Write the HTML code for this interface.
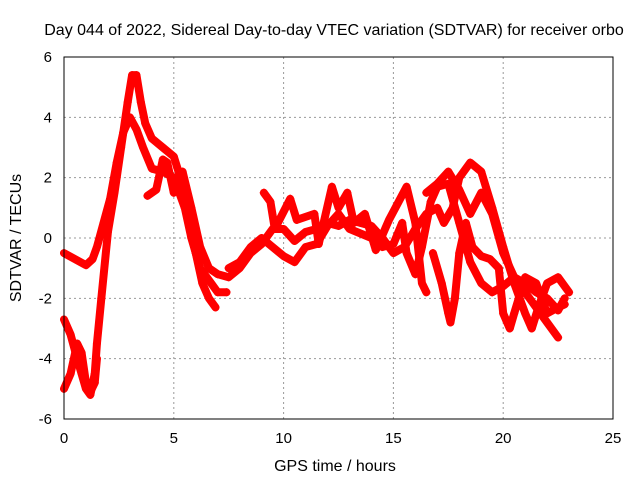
<!DOCTYPE html>
<html><head><meta charset="utf-8"><style>
body{margin:0;background:#fff;}
svg{display:block;font-family:"Liberation Sans",sans-serif;}
</style></head><body>
<svg id="chart" width="640" height="480">
<rect width="640" height="480" fill="#fff"/>
<text x="334" y="35" font-size="16" text-anchor="middle">Day 044 of 2022, Sidereal Day-to-day VTEC variation (SDTVAR) for receiver orbo</text>
<text x="335" y="471" font-size="16" text-anchor="middle">GPS time / hours</text>
<text transform="translate(21,238) rotate(-90)" font-size="16" text-anchor="middle">SDTVAR / TECUs</text>
<g id="grid"></g><g id="ticks"></g><g id="series"></g>
<rect x="64" y="57" width="549" height="362" fill="none" stroke="#000" stroke-width="1"/>
</svg>
<script>
const xTicks=[0,5,10,15,20,25];
const yTicks=[-6,-4,-2,0,2,4,6];
const trackA=[[0,-0.5],[0.5,-0.7],[1,-0.9],[1.3,-0.7],[1.5,-0.3],[1.8,0.5],[2.1,1.3],[2.4,2.5],[2.7,3.5],[3.0,4.0],[3.3,3.6],[3.6,3.0],[4.0,2.3],[4.5,2.2],[5.0,2.0],[5.5,1.0],[5.8,0],[6.2,-1.0],[6.7,-1.5],[7.0,-1.8],[7.4,-1.8]];
const trackB=[[0,-2.7],[0.3,-3.2],[0.6,-4.0],[0.8,-4.5],[1.0,-5.0],[1.2,-5.2],[1.4,-4.5],[1.5,-3.5],[1.7,-2.0],[2.0,0.2],[2.3,1.5],[2.6,3.0],[2.9,4.5],[3.1,5.4],[3.3,5.4],[3.5,4.5],[3.7,3.8],[4.0,3.3],[4.5,3.0],[5.0,2.7],[5.3,2.0],[5.6,0.8],[6.0,-0.5],[6.3,-1.5],[6.6,-2.0],[6.9,-2.3]];
const trackC=[[0,-5.0],[0.3,-4.5],[0.6,-3.5],[0.8,-3.8],[1.0,-4.8],[1.2,-5.1],[1.4,-4.8],[1.5,-4.0]];
const trackD=[[3.8,1.4],[4.2,1.6],[4.5,2.6],[4.7,2.5],[5.0,1.5],[5.4,2.2],[5.8,1.0],[6.2,-0.3],[6.6,-1.0],[7.0,-1.2],[7.5,-1.3],[8.0,-1.0],[8.5,-0.5],[9.0,-0.2],[9.5,0.3],[10,0.3],[10.5,-0.1],[11,0.2],[11.5,0.3],[12,0.5],[12.5,0.4],[13,0.6],[13.5,0.5],[14,0.4],[14.5,0.0],[15,-0.5],[15.5,-0.3],[16,0.3],[16.5,0.8],[17,1.0],[17.3,0.5],[17.7,1.0],[18,2.0],[18.5,2.5],[19,2.2],[19.5,1.0],[20,-0.3],[20.5,-1.5],[21,-2.5],[21.3,-3.0],[21.6,-2.3],[22,-1.5],[22.5,-1.3],[23,-1.8]];
const trackE=[[7.5,-1.0],[8,-0.8],[8.5,-0.3],[9,0],[9.5,-0.3],[10,-0.6],[10.5,-0.8],[11,-0.3],[11.5,-0.2],[12,0.4],[12.5,0.8],[13,0.3],[14,0],[14.5,-0.3],[15,-0.2],[15.4,0.5],[15.6,-0.5],[16,-1.2],[16.3,-0.3],[16.7,1.2],[17,1.7],[17.5,1.8],[18,0.5],[18.5,-0.8],[19,-1.5],[19.5,-1.8],[20,-1.6],[20.5,-1.3],[21,-1.5],[21.5,-1.8],[22,-2.0],[22.5,-2.4],[22.8,-2.0]];
const trackF=[[16.5,1.5],[17,1.8],[17.5,2.2],[18,1.6],[18.5,0.8],[19,1.5],[19.5,0.8],[20,-0.5],[20.5,-1.3],[21,-1.8],[21.5,-2.3],[22,-2.8],[22.5,-3.3]];
const trackG=[[16.8,-0.5],[17.2,-1.5],[17.5,-2.5],[17.6,-2.8],[17.8,-2.0],[18,-0.5],[18.3,0.5],[18.6,-0.3],[19,-0.6],[19.4,-0.7],[19.8,-1.0],[20,-2.5],[20.3,-3.0],[20.5,-2.5],[21,-1.3],[21.5,-1.5],[22,-2.5],[22.5,-2.3],[22.8,-2.2]];
const trackH=[[9.1,1.5],[9.4,1.2],[9.6,0.3],[10.3,1.3],[10.6,0.6],[11.4,0.8],[11.6,-0.2],[12.2,1.7],[12.5,1.0],[12.9,1.5],[13.2,0.5],[13.7,0.8],[14.2,-0.4],[14.8,0.6],[15.6,1.7],[16.0,0.5],[16.3,-1.5],[16.5,-1.8]];
const tracks=[trackA,trackB,trackC,trackD,trackE,trackF,trackG,trackH];
const x0=64,x1=613,yTop=57,yBot=419;
function sx(t){return x0+(t-0)/(25-0)*(x1-x0);}
function sy(v){return yBot-(v+6)/12*(yBot-yTop);}
const NS="http://www.w3.org/2000/svg";
const grid=document.getElementById('grid'),ticks=document.getElementById('ticks'),ser=document.getElementById('series');
function mk(tag,attrs,parent){const e=document.createElementNS(NS,tag);for(const k in attrs)e.setAttribute(k,attrs[k]);parent.appendChild(e);return e;}
xTicks.forEach(t=>{
  const x=sx(t);
  if(t>0&&t<25){const g=mk('line',{x1:x,x2:x,y1:yTop,y2:yBot,stroke:'#999','stroke-dasharray':'2,3','stroke-width':1},grid);
  
  }
  const l=mk('text',{x:x,y:yBot+24,'font-size':15,'text-anchor':'middle'},ticks);l.textContent=t;
  
  
});
yTicks.forEach(v=>{
  const y=sy(v);
  if(v>-6&&v<6){const g=mk('line',{x1:x0,x2:x1,y1:y,y2:y,stroke:'#999','stroke-dasharray':'2,3','stroke-width':1},grid);
  
  }
  const l=mk('text',{x:52,y:y+5,'font-size':15,'text-anchor':'end'},ticks);l.textContent=v;
  
  
});
tracks.forEach((tr,i)=>{
  const p=mk('polyline',{points:tr.map(d=>sx(d[0])+','+sy(d[1])).join(' '),fill:'none',stroke:'#f00','stroke-width':8,'stroke-linejoin':'round','stroke-linecap':'round'},ser);
  
  
  tr.forEach(d=>{
    const m=mk('path',{d:`M${sx(d[0])-4},${sy(d[1])}h8M${sx(d[0])},${sy(d[1])-4}v8`,stroke:'#f00','stroke-width':1.5},ser);
    
    
  });
});
</script>
</body></html>
